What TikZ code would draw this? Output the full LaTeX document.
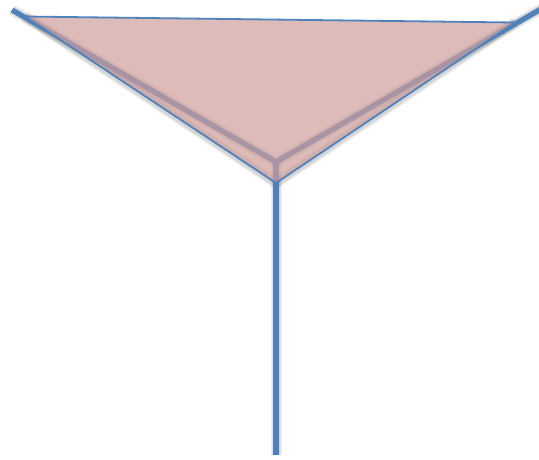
\documentclass[tikz,border=0pt]{standalone}
\usetikzlibrary{calc}
\definecolor{lineblue}{RGB}{79,129,189}
\definecolor{pinkfill}{RGB}{205,158,155}
\tikzset{
  thickline/.style={draw=lineblue,line width=5.2pt},
  thinline/.style={draw=lineblue,line width=1.8pt,line join=miter},
  shadowline/.style={draw=black,line width=#1,opacity=0.06},
  trifill/.style={fill=pinkfill,fill opacity=0.7}
}
\begin{document}
\begin{tikzpicture}[x=1pt,y=-1pt]
\useasboundingbox (0,0) rectangle (539,459);
\coordinate (L) at (12,10);
\coordinate (R) at (541,9);
\coordinate (J) at (276,162);
\coordinate (B) at (276,455);
\coordinate (TL) at (25,16.5);
\coordinate (TR) at (515,22.5);
\coordinate (TB) at (276,183);
% shadows
\begin{scope}[shift={(2,3)}]
\foreach \w in {11pt,9pt,7pt}{
  \draw[shadowline=\w] (L) -- (J) -- (R);
  \draw[shadowline=\w] (J) -- (B);
  \draw[shadowline=\w] (TL) -- (TB) -- (TR);
}
\end{scope}
% thick Y
\draw[thickline] (L) -- (J) -- (R);
\draw[thickline] (J) -- (B);
% triangle
\fill[trifill] (TL) -- (TR) -- (TB) -- cycle;
\draw[thinline] (TL) -- (TR);
\draw[thinline] (TL) -- (TB) -- (TR);
\end{tikzpicture}
\end{document}
